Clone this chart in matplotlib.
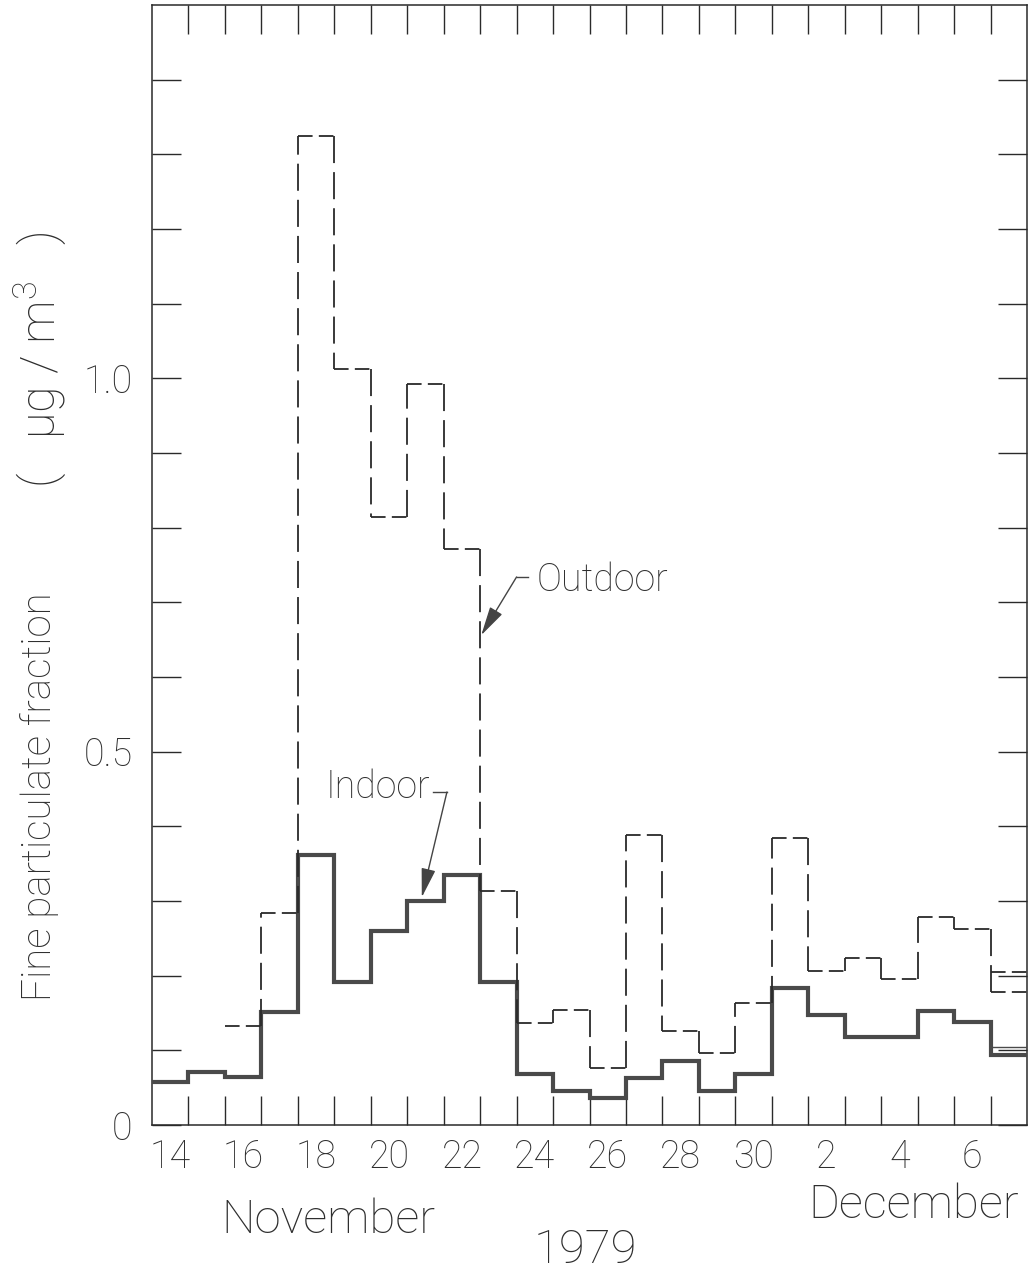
import numpy as np
import matplotlib
matplotlib.use('Agg')
import matplotlib.pyplot as plt
from matplotlib.ticker import FixedLocator

# ---------------- data ----------------
days = ['14', '15', '16', '17', '18', '19', '20', '21', '22', '23', '24', '25',
        '26', '27', '28', '29', '30', '1', '2', '3', '4', '5', '6', '7']
tick_labels = ['14', '16', '18', '20', '22', '24', '26', '28', '30', '2', '4', '6']
indoor = [0.058, 0.071, 0.064, 0.151, 0.361, 0.191, 0.260, 0.300, 0.335, 0.191,
          0.068, 0.046, 0.036, 0.063, 0.086, 0.046, 0.068, 0.183, 0.147, 0.118,
          0.118, 0.153, 0.138, 0.094]
outdoor = [np.nan, np.nan, 0.133, 0.284, 1.324, 1.013, 0.814, 0.993, 0.772, 0.313,
           0.137, 0.154, 0.076, 0.388, 0.126, 0.096, 0.163, 0.384, 0.206, 0.224,
           0.195, 0.278, 0.262, 0.178]
extra_outdoor_last = 0.205   # second outdoor trace on the final day
extra_indoor_last = 0.104    # second indoor trace on the final day
y_major = [0, 0.5, 1.0]
y_major_labels = ['0', '0.5', '1.0']

# ---------------- style ----------------
plt.rcParams['font.family'] = ['Roboto', 'DejaVu Sans']
plt.rcParams['font.weight'] = 'light'
plt.rcParams['mathtext.fontset'] = 'custom'
plt.rcParams['mathtext.rm'] = 'Roboto:light'
plt.rcParams['mathtext.default'] = 'regular'
plt.rcParams['lines.scale_dashes'] = False

txt_col = '#2e2e2e'
line_col = '#2a2a2a'

fig = plt.figure(figsize=(10.30, 12.74), dpi=100)
ax = fig.add_axes([152 / 1030, 1 - 1125 / 1274, 875 / 1030, 1120 / 1274])

n = len(days)
edges = np.arange(n + 1)
ind = np.array(indoor, dtype=float)
out = np.array(outdoor, dtype=float)

# indoor: thick solid step
ax.stairs(ind, edges, baseline=None, color='#4a4a4a', lw=3.0, zorder=3)
ax.hlines([extra_indoor_last], [n - 1.05], [n], color='#4a4a4a', lw=1.0, zorder=3)

# outdoor: dashed step (horizontal and vertical parts)
m = np.isfinite(out)
ax.hlines(out[m], edges[:-1][m], edges[1:][m], colors=line_col, lw=1.3,
          linestyles=[(0, (10.5, 4.5))], zorder=4)
vm = np.isfinite(out[:-1]) & np.isfinite(out[1:])
ax.vlines(edges[1:-1][vm], out[:-1][vm], out[1:][vm], colors=line_col, lw=1.3,
          linestyles=[(0, (19.5, 6.5))], zorder=4)
ax.hlines([extra_outdoor_last], [n - 1], [n], colors=line_col, lw=1.3,
          linestyles=[(0, (10.5, 4.5))], zorder=4)

ax.set_xlim(0, n)
ax.set_ylim(0, 1.5)

# ticks
ax.xaxis.set_major_locator(FixedLocator(np.arange(1, n)))
ax.tick_params(axis='x', which='major', labelbottom=False)
label_pos = np.arange(0, n, 2) + 0.5
ax.set_xticks(label_pos, labels=tick_labels, minor=True)
ax.tick_params(axis='x', which='minor', length=0, pad=10, labelsize=27,
               labelcolor=txt_col)
ax.tick_params(axis='x', which='major', direction='in', length=21, width=1.0,
               top=True, bottom=True, color=line_col)

ax.set_yticks(y_major, labels=y_major_labels)
ax.yaxis.set_minor_locator(FixedLocator(np.arange(0.1, 1.45, 0.1)))
ax.tick_params(axis='y', which='both', direction='in', length=21, width=1.0,
               left=True, right=True, color=line_col)
ax.tick_params(axis='y', which='major', pad=14, labelsize=27, labelcolor=txt_col)

for s in ax.spines.values():
    s.set_linewidth(1.1)
    s.set_color(line_col)

# annotations
ax.annotate('', xy=(9.03, 0.656), xytext=(10.0, 0.734),
            arrowprops=dict(arrowstyle='-|>,head_length=0.9,head_width=0.22',
                            mutation_scale=20, color='#444444', lw=1.0,
                            shrinkA=0, shrinkB=0))
ax.plot([10.0, 10.3], [0.734, 0.734], color='#444444', lw=1.0)
ax.text(10.55, 0.730, 'Outdoor', fontsize=27, color=txt_col, ha='left', va='center')

ax.annotate('', xy=(7.40, 0.305), xytext=(8.09, 0.446),
            arrowprops=dict(arrowstyle='-|>,head_length=0.9,head_width=0.22',
                            mutation_scale=20, color='#444444', lw=1.0,
                            shrinkA=0, shrinkB=0))
ax.plot([7.72, 8.09], [0.446, 0.446], color='#444444', lw=1.0)
ax.text(7.64, 0.452, 'Indoor', fontsize=27, color=txt_col, ha='right', va='center')

# axis label (two parts) and date captions
fig.text(40 / 1030, 1 - 797 / 1274, 'Fine particulate fraction',
         rotation=90, ha='center', va='center', fontsize=29, color=txt_col)
fig.text(40 / 1030, 1 - 360 / 1274, '(   \u03bcg / m$^{3}$   )',
         rotation=90, ha='center', va='center', fontsize=35, color=txt_col)
fig.text(328 / 1030, 1 - 1220 / 1274, 'November', ha='center', va='center',
         fontsize=34, color=txt_col)
fig.text(914 / 1030, 1 - 1205 / 1274, 'December', ha='center', va='center',
         fontsize=34, color=txt_col)
fig.text(585 / 1030, 1 - 1250 / 1274, '1979', ha='center', va='center',
         fontsize=34, color=txt_col)

fig.savefig('out.png', dpi=100)
